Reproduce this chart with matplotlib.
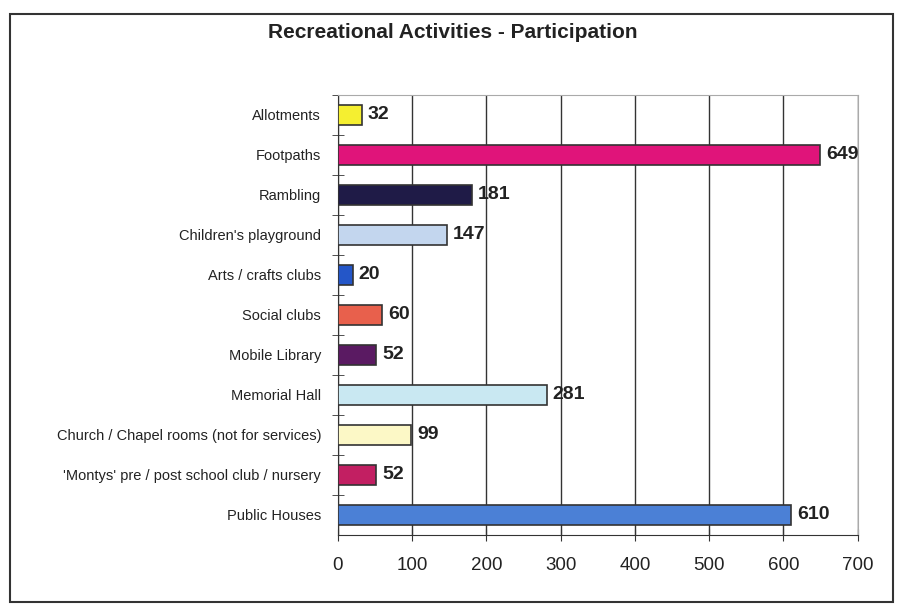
import matplotlib.pyplot as plt
from matplotlib.patches import Rectangle

plt.rcParams["font.family"] = ["Liberation Sans", "DejaVu Sans"]

# data, top to bottom as in the chart
categories = [
    "Allotments",
    "Footpaths",
    "Rambling",
    "Children's playground",
    "Arts / crafts clubs",
    "Social clubs",
    "Mobile Library",
    "Memorial Hall",
    "Church / Chapel rooms (not for services)",
    "'Montys' pre / post school club / nursery",
    "Public Houses",
]
values = [32, 649, 181, 147, 20, 60, 52, 281, 99, 52, 610]
bar_colors = [
    "#f5ef30", "#e0147a", "#1f1b47", "#c3d6ee", "#2456c8", "#e8604c",
    "#5a1a62", "#c9e8f2", "#fcf8c6", "#c21f62", "#4b80d6",
]
x_ticks = [0, 100, 200, 300, 400, 500, 600, 700]

fig = plt.figure(figsize=(9.01, 6.05), dpi=100)
fig.patch.set_facecolor("white")

# outer frame of the chart
fig.add_artist(Rectangle((0.011, 0.005), 0.98, 0.972, transform=fig.transFigure,
                         fill=False, edgecolor="#333333", linewidth=1.5))

ax = fig.add_axes([0.375, 0.116, 0.577, 0.727])

pos = list(range(len(categories)))[::-1]
ax.barh(pos, values, height=0.5, color=bar_colors, edgecolor="#333333",
        linewidth=1.2, zorder=3)

for p, v in zip(pos, values):
    ax.text(v + 8, p, str(v), va="center", ha="left", fontsize=14,
            fontweight="bold", color="#222222", zorder=4)

ax.set_xlim(0, 700)
ax.set_ylim(-0.5, len(categories) - 0.5)
ax.set_xticks(x_ticks)
ax.set_xticklabels([str(t) for t in x_ticks], fontsize=13.5, color="#222222")
ax.tick_params(axis="x", direction="inout", length=8, pad=12, color="#333333")

# category ticks sit between the bars
ax.set_yticks(pos)
ax.set_yticklabels(categories, fontsize=10.5, color="#222222")
ax.tick_params(axis="y", length=0, pad=12)
ax.set_yticks([p + 0.5 for p in range(len(categories))], minor=True)
ax.tick_params(axis="y", which="minor", direction="inout", length=8, color="#333333")

ax.grid(axis="x", color="#333333", linewidth=1.0, zorder=0)
ax.spines["left"].set_color("#333333")
ax.spines["bottom"].set_color("#333333")
ax.spines["top"].set_color("#aaaaaa")
ax.spines["right"].set_color("#aaaaaa")

fig.text(0.503, 0.947, "Recreational Activities - Participation", ha="center",
         va="center", fontsize=15, fontweight="bold", color="#222222")

fig.savefig("out.png", dpi=100)
